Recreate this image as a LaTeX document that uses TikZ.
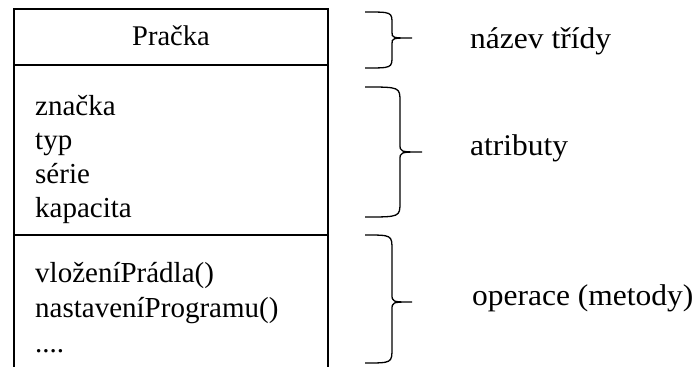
\documentclass[tikz,border=0pt]{standalone}
\usepackage{fontspec}
\setmainfont{Liberation Serif}
\newfontfamily\lblfont[FakeStretch=1.05]{Liberation Serif}
\begin{document}
\begin{tikzpicture}[x=1pt,y=-1pt,
  boxline/.style={line width=1.8pt,black},
  bracestyle/.style={line width=1.3pt,black},
  lbl/.style={anchor=base west,inner sep=0pt,font=\fontsize{29}{34}\selectfont},
  side/.style={anchor=base west,inner sep=0pt,font=\lblfont\fontsize{30}{34}\selectfont},
  ctr/.style={anchor=base,inner sep=0pt,font=\fontsize{28.5}{34}\selectfont}]
\useasboundingbox (0,0) rectangle (697,367);
% class box
\coordinate (tl) at (14,9);
\coordinate (tr) at (328,9);
\coordinate (bl) at (14,367);
\coordinate (br) at (328,367);
\coordinate (d1l) at (14,65);
\coordinate (d1r) at (328,65);
\coordinate (d2l) at (14,235);
\coordinate (d2r) at (328,235);
\draw[boxline] (bl) -- (tl) -- (tr) -- (br);
\draw[boxline] (d1l) -- (d1r);
\draw[boxline] (d2l) -- (d2r);
% texts
\node[ctr] (name) at (171,45) {Pračka};
\node[lbl] (a1) at (35,115) {značka};
\node[lbl] (a2) at (35,149) {typ};
\node[lbl] (a3) at (35,183) {série};
\node[lbl] (a4) at (35,217) {kapacita};
\node[lbl] (m1) at (35,282) {vloženíPrádla()};
\node[lbl] (m2) at (35,317) {nastaveníProgramu()};
\node[lbl] (m3) at (35,352) {....};
% braces
\draw[bracestyle] (365,12) .. controls (392,12) .. (392,24) -- (392,32)
  .. controls (392,38) .. (412,38) .. controls (392,38) .. (392,44) -- (392,56)
  .. controls (392,68) .. (365,68);
\draw[bracestyle] (365,87) .. controls (400,87) .. (400,102) -- (400,144)
  .. controls (400,152) .. (422,152) .. controls (400,152) .. (400,160) -- (400,202)
  .. controls (400,217) .. (365,217);
\draw[bracestyle] (365,235) .. controls (392,235) .. (392,250) -- (392,294)
  .. controls (392,302) .. (412,302) .. controls (392,302) .. (392,310) -- (392,348)
  .. controls (392,363) .. (365,363);
\node[side] (l1) at (470,48) {název třídy};
\node[side] (l2) at (470,155) {atributy};
\node[side] (l3) at (472,305) {operace (metody)};
\end{tikzpicture}
\end{document}
